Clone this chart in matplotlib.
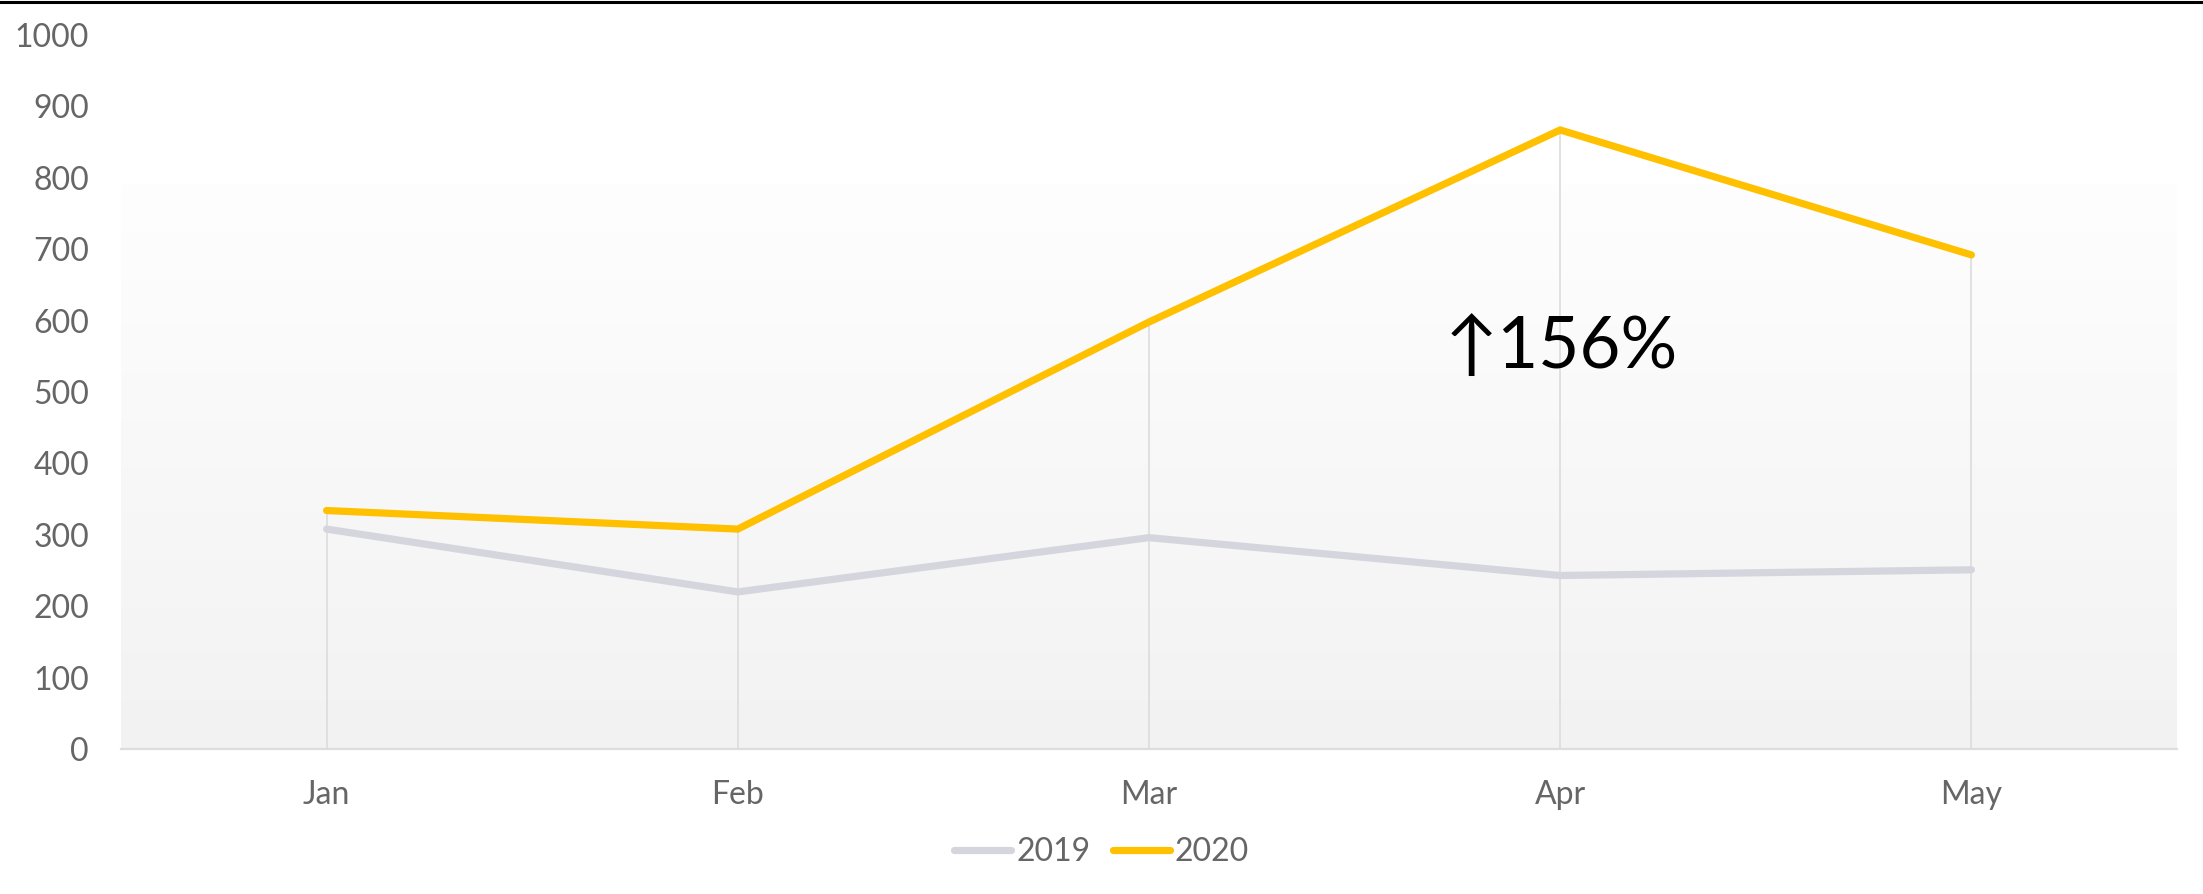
import matplotlib
matplotlib.use("Agg")
import matplotlib.pyplot as plt
import numpy as np
from matplotlib.lines import Line2D

months = ["Jan", "Feb", "Mar", "Apr", "May"]
sales_2019 = [308, 220, 296, 243, 251]
sales_2020 = [334, 308, 598, 867, 692]
yticks = [0, 100, 200, 300, 400, 500, 600, 700, 800, 900, 1000]
annotation = "↑156%"

W, H = 2203, 894
fig = plt.figure(figsize=(W / 100, H / 100), dpi=100)
fig.patch.set_facecolor("white")
ax = fig.add_axes([121 / W, 1 - 749 / H, (2177 - 121) / W, (749 - 35) / H])
ax.set_facecolor("none")

x = np.arange(len(months))
ax.set_xlim(-0.5, len(months) - 0.5)
ax.set_ylim(0, 1000)

# gradient background
grad = np.linspace(0, 1, 256).reshape(-1, 1)
top = np.array([0xfe, 0xfe, 0xfe]) / 255
bot = np.array([0xf2, 0xf2, 0xf2]) / 255
img = top[None, None, :] * (1 - grad[:, :, None]) + bot[None, None, :] * grad[:, :, None]
ax.imshow(img, extent=[0, 1, 0, (749 - 184) / (749 - 35)], transform=ax.transAxes,
          aspect="auto", zorder=0)

# drop lines
tops = [max(a, b) for a, b in zip(sales_2019, sales_2020)]
ax.vlines(x, 0, tops, colors="#dcdcdc", linewidth=1.2, zorder=1)

ax.plot(x, sales_2019, color="#d5d5de", linewidth=5.2, solid_capstyle="round",
        solid_joinstyle="miter", label="2019", zorder=3)
ax.plot(x, sales_2020, color="#ffc000", linewidth=5.2, solid_capstyle="round",
        solid_joinstyle="miter", label="2020", zorder=4)

for s in ["top", "right", "left"]:
    ax.spines[s].set_visible(False)
ax.spines["bottom"].set_color("#dddddd")
ax.spines["bottom"].set_linewidth(1.6)

ax.set_xticks(x)
ax.set_xticklabels(months)
ax.set_yticks(yticks)
ax.set_yticklabels([str(v) for v in yticks])
ax.tick_params(axis="both", length=0, labelsize=23, labelcolor="#666666")
ax.tick_params(axis="y", pad=23)
ax.tick_params(axis="x", pad=22)
for lab in ax.get_xticklabels() + ax.get_yticklabels():
    lab.set_family(["Lato", "DejaVu Sans"])

ax.text(2.72, 5.33 * 100, annotation, fontsize=51, color="black",
        family=["Lato", "DejaVu Sans"], fontweight="normal",
        ha="left", va="baseline", zorder=5)

leg = fig.legend(handles=[Line2D([], [], color="#d5d5de", lw=5.2, solid_capstyle="round"),
                          Line2D([], [], color="#ffc000", lw=5.2, solid_capstyle="round")],
                 labels=["2019", "2020"], loc="center", bbox_to_anchor=(0.5, 1 - 852 / H),
                 ncol=2, frameon=False, handlelength=1.8, handletextpad=0.15,
                 columnspacing=0.7, prop={"family": ["Lato", "DejaVu Sans"], "size": 23})
for t in leg.get_texts():
    t.set_color("#666666")

# top black rule
fig.add_artist(Line2D([0, 1], [1 - 1.5 / H, 1 - 1.5 / H], transform=fig.transFigure,
                      color="black", linewidth=2.2))

fig.savefig("out.png", dpi=100)
